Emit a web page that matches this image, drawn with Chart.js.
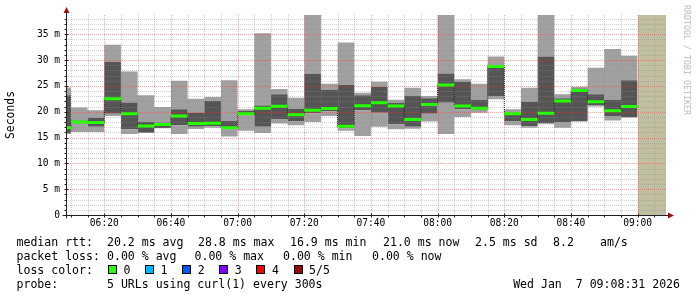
<!DOCTYPE html>
<html>
<head>
<meta charset="utf-8">
<script src="https://cdn.jsdelivr.net/npm/chart.js@4.4.1/dist/chart.umd.min.js"></script>
<style>
  body { margin: 0; background: #fff; }
  #wrap { position: relative; width: 697px; height: 297px; overflow: hidden; font-family: "DejaVu Sans Mono", monospace; }
  #chart { position: absolute; left: 0; top: 0; }
  .t { position: absolute; white-space: pre; font-size: 11.55px; line-height: 14px; color: #000; }
  .sq { position: absolute; width: 7px; height: 7px; border: 1px solid #000; }
  #mark { position: absolute; left: 680px; top: 5px; font-size: 8.3px; color: #bdbdbd; white-space: pre;
          transform-origin: 0 0; transform: translate(12px, 0) rotate(90deg); }
</style>
</head>
<body>
<div id="wrap">
  <canvas id="chart" width="697" height="297"></canvas>
  <div id="mark">RRDTOOL / TOBI OETIKER</div>

  <div class="t" style="left:16.5px;top:234.5px">median rtt:</div>
  <div class="t" style="left:107px;top:234.5px">20.2 ms avg</div>
  <div class="t" style="left:198px;top:234.5px">28.8 ms max</div>
  <div class="t" style="left:290px;top:234.5px">16.9 ms min</div>
  <div class="t" style="left:383px;top:234.5px">21.0 ms now</div>
  <div class="t" style="left:475px;top:234.5px">2.5 ms sd</div>
  <div class="t" style="left:553px;top:234.5px">8.2</div>
  <div class="t" style="left:600px;top:234.5px">am/s</div>

  <div class="t" style="left:16.5px;top:248.5px">packet loss:</div>
  <div class="t" style="left:107px;top:248.5px">0.00 % avg</div>
  <div class="t" style="left:194.5px;top:248.5px">0.00 % max</div>
  <div class="t" style="left:283px;top:248.5px">0.00 % min</div>
  <div class="t" style="left:372px;top:248.5px">0.00 % now</div>

  <div class="t" style="left:16.5px;top:262.5px">loss color:</div>
  <div id="lossLegend"></div>

  <div class="t" style="left:16.5px;top:276.5px">probe:</div>
  <div class="t" style="left:107px;top:276.5px">5 URLs using curl(1) every 300s</div>
  <div class="t" style="right:17px;top:276.5px">Wed Jan  7 09:08:31 2026</div>
</div>
<script>
// time window shown (3 hours up to the graph timestamp)
const windowStart = '06:08:31';
const windowEnd = '09:08:31';
// end time of each 5 minute step (first one is the partial step at the left edge)
const binEnds = ['06:10','06:15','06:20','06:25','06:30','06:35','06:40','06:45','06:50','06:55',
                 '07:00','07:05','07:10','07:15','07:20','07:25','07:30','07:35','07:40','07:45',
                 '07:50','07:55','08:00','08:05','08:10','08:15','08:20','08:25','08:30','08:35',
                 '08:40','08:45','08:50','08:55','09:00'];
// rtt per step in ms: smoke from min to max, darker band between 2nd and 4th ping
const rttMin    = [15.7,16.1,16.1,19.2,15.7,15.9,16.8,15.7,16.65,16.9,15.2,16.3,15.9,17.7,17.4,18.0,19.2,16.3,15.3,17.1,
                   16.6,16.7,18.1,15.7,19.0,19.8,22.4,17.4,16.9,17.6,16.9,18.1,21.0,18.3,18.9];
const rttLow    = [15.9,17.7,17.1,19.6,16.6,15.95,16.85,17.4,17.1,17.2,16.6,19.3,17.1,18.5,18.1,19.7,20.1,16.8,20.3,19.8,
                   17.6,17.1,19.6,21.75,20.5,20.4,23.05,18.1,17.2,17.75,17.9,18.15,21.3,19.2,18.95];
const rttMedian = [16.9,18.0,17.9,22.5,19.6,17.25,17.55,19.2,17.7,17.75,16.9,19.6,20.7,21.05,19.4,20.3,20.65,17.2,21.15,21.75,
                   21.1,18.5,21.4,25.2,21.1,20.7,28.75,19.6,18.5,19.7,22.1,24.1,21.95,20.2,21.0];
const rttHigh   = [23.2,18.3,18.85,29.7,21.8,18.0,17.9,20.5,19.8,22.1,18.2,20.2,21.2,23.4,20.6,27.3,24.2,25.2,23.2,24.85,
                   21.75,23.05,22.6,27.4,25.8,22.3,29.0,19.7,21.95,30.7,22.6,24.5,23.4,22.3,26.1];
const rttMax    = [24.7,20.8,20.3,33.0,27.8,23.2,20.9,26.0,22.5,22.85,26.1,20.5,35.2,24.4,22.7,40.5,25.4,33.4,23.7,25.8,
                   22.3,24.65,23.05,40.5,26.3,25.4,30.7,20.5,24.65,40.5,23.4,24.85,28.5,32.15,30.85];
// stretch without data at the right edge
const unknownSpan = ['09:00', '09:08:31'];
// axis ticks
const xTickLabels = ['06:20','06:40','07:00','07:20','07:40','08:00','08:20','08:40','09:00'];
const yTickLabels = [0,5,10,15,20,25,30,35];
const yTop = 38.74;
// loss colours legend
const lossLabels = ['0','1','2','3','4','5/5'];
const lossColors = ['#26ff00','#00b8ff','#0059ff','#7e00ff','#ff0000','#a10000'];

const toMin = s => { const p = s.split(':').map(Number); return p[0] * 60 + p[1] + (p[2] || 0) / 60; };
const xMin = toMin(windowStart), xMax = toMin(windowEnd);
const ends = binEnds.map(toMin);
const starts = ends.map((e, i) => i === 0 ? xMin : ends[i - 1]);

// flat step for each bin: start and end point with the same value
function steps(series) {
  const pts = [];
  series.forEach((v, i) => { pts.push({ x: starts[i], y: v }, { x: ends[i], y: v }); });
  return pts;
}
// separate horizontal pieces (broken by gaps)
function pieces(series) {
  const pts = [];
  series.forEach((v, i) => { pts.push({ x: starts[i], y: v }, { x: ends[i], y: v }, { x: ends[i], y: null }); });
  return pts;
}

const LIGHT = '#a0a0a0', DARK = '#555555';
const base = { borderWidth: 0, pointRadius: 0, tension: 0, order: 5 };

// legend squares
const ll = document.getElementById('lossLegend');
lossLabels.forEach((lab, i) => {
  const x = 108 + i * 37.1;
  const sq = document.createElement('div');
  sq.className = 'sq';
  sq.style.left = x + 'px'; sq.style.top = '265px'; sq.style.background = lossColors[i];
  ll.appendChild(sq);
  const t = document.createElement('div');
  t.className = 't';
  t.style.left = (x + 15.5) + 'px'; t.style.top = '262.5px';
  t.textContent = lab;
  ll.appendChild(t);
});

const gridMajor = 'rgba(220,60,60,0.42)', gridMinor = 'rgba(140,140,140,0.42)';
const xTicks = [];
for (let v = Math.ceil(xMin / 5) * 5; v < xMax; v += 5) xTicks.push(v);
const yTicks = [];
for (let v = 0; v <= Math.floor(yTop); v++) yTicks.push(v);
const fmtTime = v => String(Math.floor(v / 60)).padStart(2, '0') + ':' + String(v % 60).padStart(2, '0');

const rrdDecor = {
  id: 'rrdDecor',
  beforeDatasetDraw(chart, args) {
    // grid goes on top of the smoke but under the median line
    if (args.index !== 6) return;
    const { ctx, chartArea: a, scales: { x, y } } = chart;
    ctx.save();
    ctx.lineWidth = 1;
    ctx.setLineDash([1, 1]);
    x.ticks.forEach(t => {
      const px = Math.round(x.getPixelForValue(t.value)) + 0.5;
      ctx.strokeStyle = xTickLabels.includes(fmtTime(t.value)) ? gridMajor : gridMinor;
      ctx.beginPath(); ctx.moveTo(px, a.top); ctx.lineTo(px, a.bottom); ctx.stroke();
    });
    y.ticks.forEach(t => {
      if (t.value === 0) return;
      const py = Math.round(y.getPixelForValue(t.value)) + 0.5;
      ctx.strokeStyle = yTickLabels.includes(t.value) ? gridMajor : gridMinor;
      ctx.beginPath(); ctx.moveTo(a.left, py); ctx.lineTo(a.right, py); ctx.stroke();
    });
    ctx.restore();
  },
  afterDraw(chart) {
    const { ctx, chartArea: a, scales: { x, y } } = chart;
    const ax = Math.round(a.left) + 0.5, ay = Math.round(a.bottom) + 0.5;
    ctx.save();
    ctx.strokeStyle = '#202020';
    ctx.lineWidth = 1;
    ctx.beginPath();
    ctx.moveTo(ax - 4, ay); ctx.lineTo(a.right + 4, ay);
    ctx.moveTo(ax, ay + 3); ctx.lineTo(ax, a.top - 5);
    x.ticks.forEach(t => {
      const px = Math.round(x.getPixelForValue(t.value)) + 0.5;
      const major = xTickLabels.includes(fmtTime(t.value));
      ctx.moveTo(px, ay - (major ? 2 : 0)); ctx.lineTo(px, ay + 2);
    });
    y.ticks.forEach(t => {
      const py = Math.round(y.getPixelForValue(t.value)) + 0.5;
      const major = yTickLabels.includes(t.value);
      ctx.moveTo(ax - 2, py); ctx.lineTo(ax + (major ? 2 : 0), py);
    });
    ctx.stroke();
    // axis arrows
    ctx.fillStyle = '#9a1010';
    ctx.beginPath();
    ctx.moveTo(a.right + 2, ay - 3); ctx.lineTo(a.right + 8, ay); ctx.lineTo(a.right + 2, ay + 3); ctx.closePath();
    ctx.moveTo(ax - 3, a.top - 2); ctx.lineTo(ax, a.top - 8); ctx.lineTo(ax + 3, a.top - 2); ctx.closePath();
    ctx.fill();
    ctx.restore();
  }
};

Chart.defaults.font.family = '"DejaVu Sans Mono", monospace';
Chart.defaults.color = '#000';

new Chart(document.getElementById('chart'), {
  type: 'line',
  data: {
    datasets: [
      { ...base, label: 'min', data: steps(rttMin), fill: false },
      { ...base, label: 'low', data: steps(rttLow), fill: '-1', backgroundColor: LIGHT },
      { ...base, label: 'high', data: steps(rttHigh), fill: '-1', backgroundColor: DARK },
      { ...base, label: 'max', data: steps(rttMax), fill: '-1', backgroundColor: LIGHT },
      { ...base, label: 'unknown', fill: 'origin', backgroundColor: '#c1bf9f',
        data: unknownSpan.map(t => ({ x: toMin(t), y: yTop })) },
      { ...base, label: 'spacer', data: [], order: 4 },
      { label: 'median link', data: steps(rttMedian), borderColor: '#1a1a1a', borderWidth: 1, borderDash: [1, 1],
        pointRadius: 0, tension: 0, fill: false, order: 2 },
      { label: 'median', data: pieces(rttMedian), borderColor: lossColors[0], borderWidth: 3, borderCapStyle: 'butt',
        pointRadius: 0, tension: 0, fill: false, spanGaps: false, order: 1 }
    ]
  },
  options: {
    responsive: false,
    animation: false,
    events: [],
    layout: { padding: { left: 0, right: 31, top: 15, bottom: 0 } },
    plugins: { legend: { display: false }, tooltip: { enabled: false } },
    scales: {
      x: {
        type: 'linear', min: xMin, max: xMax,
        grid: { display: false, drawTicks: false },
        border: { display: false },
        afterBuildTicks: s => { s.ticks = xTicks.map(v => ({ value: v })); },
        afterFit: s => { s.height = 82; },
        ticks: {
          autoSkip: false, maxRotation: 0, padding: 3,
          font: { size: 9.6 },
          callback: v => xTickLabels.includes(fmtTime(v)) ? fmtTime(v) : ''
        }
      },
      y: {
        min: 0, max: yTop,
        grid: { display: false, drawTicks: false },
        border: { display: false },
        afterBuildTicks: s => { s.ticks = yTicks.map(v => ({ value: v })); },
        afterFit: s => { s.width = 66; },
        title: { display: true, text: 'Seconds', font: { size: 11.4 }, padding: { top: 4, bottom: 0 } },
        ticks: {
          autoSkip: false, padding: 6,
          font: { size: 9.6 },
          callback: v => yTickLabels.includes(v) ? (v === 0 ? '0' : v + ' m') : ''
        }
      }
    }
  },
  plugins: [rrdDecor]
});
</script>
</body>
</html>
